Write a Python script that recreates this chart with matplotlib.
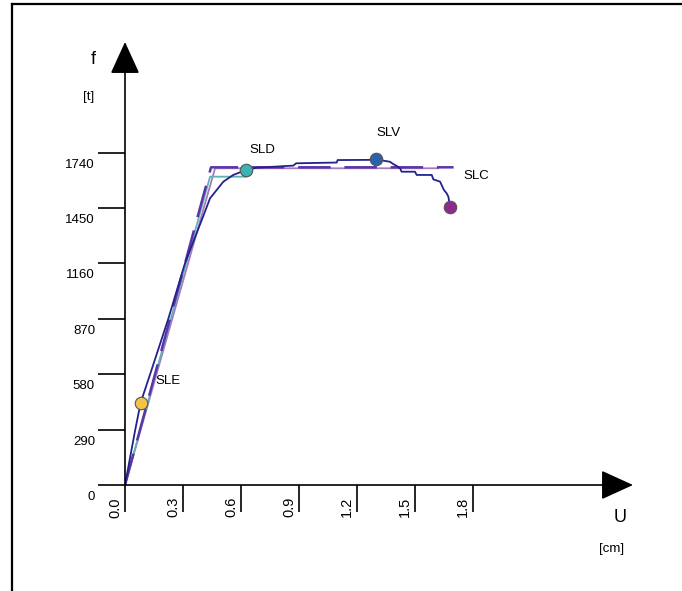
import matplotlib.pyplot as plt
from matplotlib.lines import Line2D

plt.rcParams['font.family'] = ['Liberation Sans', 'DejaVu Sans']

# curva di capacità (spostamento [cm], forza [t])
u_cap = [0, 0.052, 0.081, 0.129, 0.224, 0.31, 0.397, 0.44, 0.509, 0.56, 0.626,
         0.681, 0.871, 0.885, 1.095, 1.10, 1.276, 1.298, 1.336, 1.371, 1.388,
         1.406, 1.423, 1.431, 1.500, 1.509, 1.587, 1.595, 1.630, 1.650, 1.664,
         1.673, 1.681]
f_cap = [0, 284, 431, 577, 870, 1160, 1387, 1501, 1588, 1623, 1649,
         1661, 1672, 1684, 1688, 1701, 1702, 1705, 1698, 1692, 1680,
         1670, 1658, 1640, 1640, 1623, 1623, 1600, 1588, 1544, 1527,
         1509, 1457]

# bilineari
u_bil = [0, 0.445, 1.70]
f_bil = [0, 1663, 1663]
u_bil2 = [0, 0.466, 1.62]
f_bil2 = [0, 1658, 1658]
u_bil3 = [0, 0.44, 0.626]
f_bil3 = [0, 1614, 1614]

# stati limite
sl_names = ['SLE', 'SLD', 'SLV', 'SLC']
sl_u = [0.081, 0.626, 1.298, 1.681]
sl_f = [431, 1649, 1705, 1457]
sl_col = ['#f2c447', '#3bb3b3', '#2a62ad', '#8e2a8e']
sl_off = [(15, 22), (3, 20), (1, 26), (13, 31)]

xt = [0.0, 0.3, 0.6, 0.9, 1.2, 1.5, 1.8]
yt = [0, 290, 580, 870, 1160, 1450, 1740]

W, H = 682, 591
fig = plt.figure(figsize=(W / 100, H / 100), dpi=100)

# assi: origine a (125,485) px, punta frecce a x=633 e y=42
x0, y0, x1, y1 = 125, 485, 633, 42
ax = fig.add_axes([x0 / W, 1 - y0 / H, (x1 - x0) / W, (y0 - y1) / H])
ax.set_xlim(0, (x1 - x0) / 193.3)
ax.set_ylim(0, (y0 - y1) / 0.19103)
for s in ax.spines.values():
    s.set_visible(False)

ax.plot(u_bil2, f_bil2, color='#a77ac0', lw=1.3)
ax.plot(u_bil3, f_bil3, color='#5fb3b3', lw=1.3)
ax.plot(u_bil, f_bil, color='#5a35a8', lw=1.8, dashes=(13, 5.5))
ax.plot(u_cap, f_cap, color='#23228c', lw=1.3)

for n, u, f, c, o in zip(sl_names, sl_u, sl_f, sl_col, sl_off):
    ax.plot(u, f, 'o', ms=9, mfc=c, mec='#555555', mew=0.8, zorder=5)
    ax.annotate(n, (u, f), xytext=o, textcoords='offset pixels',
                ha='left', va='center', fontsize=9.5)

# frecce degli assi
arr = dict(arrowstyle='-|>,head_length=0.92,head_width=0.42', color='k',
           lw=1.2, mutation_scale=22, shrinkA=0, shrinkB=0)
ax.annotate('', xy=(1, 0), xytext=(0, 0), xycoords='axes fraction', arrowprops=arr)
ax.annotate('', xy=(0, 1), xytext=(0, 0), xycoords='axes fraction', arrowprops=arr)

ax.set_xticks(xt)
ax.set_yticks(yt)
ax.set_xticklabels([])
ax.set_yticklabels([])
ax.tick_params(direction='out', length=19.5, width=1.2, color='k')

# etichette dei tick (spostate come nell'originale)
for v in yt:
    ax.annotate(str(v), (0, v), xytext=(-30, -12), textcoords='offset pixels',
                xycoords=('axes fraction', 'data'), ha='right', va='center',
                fontsize=9.5)
for v in xt:
    ax.annotate('%.1f' % v, (v, 0), xytext=(-3, -12), textcoords='offset pixels',
                xycoords=('data', 'axes fraction'), ha='right', va='top',
                rotation=90, fontsize=10.5)

fig.text(93 / W, 1 - 60 / H, 'f', fontsize=13, ha='center', va='center')
fig.text(89 / W, 1 - 97 / H, '[t]', fontsize=9.5, ha='center', va='center')
fig.text(620 / W, 1 - 518 / H, 'U', fontsize=13, ha='center', va='center')
fig.text(612 / W, 1 - 549 / H, '[cm]', fontsize=9.5, ha='center', va='center')

# cornice
fig.add_artist(Line2D([12 / W, 12 / W], [0, 1 - 4 / H], color='k', lw=1.6))
fig.add_artist(Line2D([12 / W, 1], [1 - 4 / H, 1 - 4 / H], color='k', lw=1.6))

fig.savefig('out.png', dpi=100)
